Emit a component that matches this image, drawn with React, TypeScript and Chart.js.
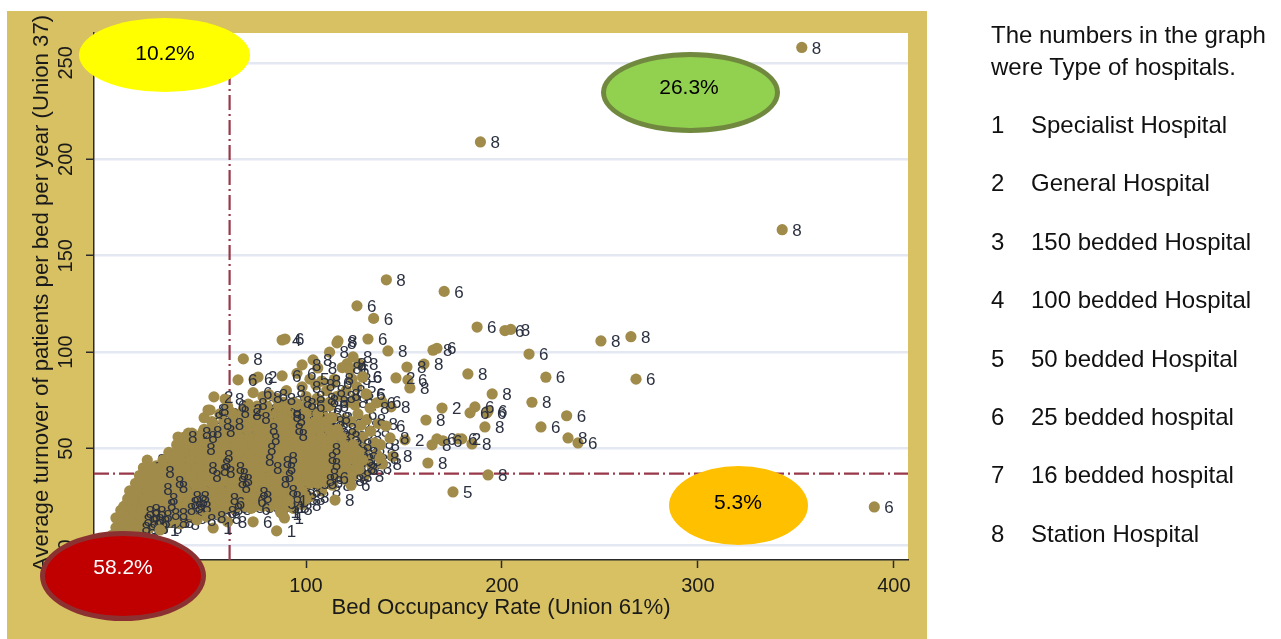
import React, { useEffect, useRef } from "react";
import { Chart, registerables } from "chart.js";

Chart.register(...registerables);

type Hospital = [number, number, number];

const xTickValues = [0, 100, 200, 300, 400];
const yTickValues = [0, 50, 100, 150, 200, 250];
const unionOccupancy = [61];
const unionTurnover = [37];
const xTitle = "Bed Occupancy Rate (Union 61%)";
const yTitle = " Average turnover of patients per bed per year (Union 37)";
const noteLines = ["The numbers in the graph", "were Type of hospitals."];
const hospitalTypes = [
  "Specialist Hospital",
  "General Hospital",
  "150 bedded Hospital",
  "100 bedded Hospital",
  "50 bedded Hospital",
  "25 bedded hospital",
  "16 bedded hospital",
  "Station Hospital",
];

// Deepest layer of the dense mass: labels end up hidden under later markers.
const massBack: Hospital[] = [
  [1,5,8],[3,9,8],[3,14,8],[5,6,8],[5,11,8],[5.5,18,8],[7,8,8],[8,15,8],[8.5,21,8],[9,11,8],[10,5,8],[11,18,8],[11.5,25,8],
  [12,9,8],[13,14,8],[14,22,8],[14.5,30,8],[15,6,8],[16,11,8],[16.5,18,8],[17,27,8],[18,33,8],[18.5,39,8],[19,14,8],[20,9,8],
  [20.5,23,8],[21,30,8],[22,36,8],[23,18,8],[23.5,41,8],[24,12,8],[25,26,8],[25.5,33,8],[26,39,8],[27,9,8],[27.5,20,8],[28,15,8],
  [29,31,8],[29.5,38,8],[30,25,8],[30.5,42,8],[31,12,8],[32,19,8],[33,35,8],[33.5,46,8],[34,52,8],[34,40,8],[34.5,15,8],[35,23,8],
  [36,11,8],[36.5,32,8],[37,18,8],[37.5,43,8],[38,38,8],[39,26,8],[39.5,14,8],[40,21,8],[41,35,8],[41.5,45,8],[42,29,8],[42.5,17,8],
  [43,40,8],[44,24,8],[44.5,49,8],[45,19,8],[45.5,33,8],[46,55,8],[46,24,6],[46.5,31,8],[47,38,8],[47.5,44,8],[48,50,8],[48.5,17,8],
  [49,27,8],[49.5,35,8],[50,56,8],[50.5,42,8],[51,20,8],[51.5,30,8],[52,47,8],[53,36,8],[53.5,53,8],[54,24,8],[54.5,59,8],[55,41,8],
  [55.5,32,8],[56,48,8],[56.5,18,8],[57,27,8],[57.5,54,8],[58,38,8],[59,44,8],[59.5,23,8],[60,31,8],[60.5,58,8],[61,50,8],[62,37,8],
  [62.5,19,8],[63,26,8],[63.5,44,8],[64,55,8],[64.5,33,8],[65,62,8],[65.5,48,8],[66,40,8],[66.5,23,8],[67,30,8],[68,53,8],[68.5,36,8],
];

// Second layer of the mass.
const massMiddle: Hospital[] = [
  [69,58,8],[69.5,45,8],[70,26,8],[71,33,8],[71.5,63,8],[72,49,8],[72.5,21,8],[73,40,8],[73.5,55,8],[74,29,8],[74.5,68,8],[75,36,8],
  [75.5,60,8],[76,46,8],[76.5,24,8],[77,52,8],[77.5,33,8],[78,71,8],[78.5,42,8],[79,65,8],[79.5,28,8],[80,57,8],[80.5,48,8],[81,37,8],
  [81.5,20,8],[82,62,8],[82.5,53,8],[83,31,8],[83.5,70,8],[84,44,8],[84.5,24,8],[85,58,8],[85.5,39,8],[86,66,8],[86.5,49,8],[87,30,8],
  [88,55,8],[88.5,74,8],[89,43,8],[89.5,36,8],[90,62,8],[90.5,24,8],[91,50,8],[91.5,69,8],[92,31,8],[92.5,44,8],[93,57,8],[93.5,19,8],
  [94,38,8],[94.5,65,8],[95,26,8],[96,50,8],[96.5,34,8],[97,60,8],[97.5,42,8],[98,21,8],[98.5,68,8],[99,54,8],[99.5,30,8],[100.5,46,8],
  [101,37,8],[101.5,62,8],[102,25,8],[102.5,56,8],[103,70,8],[103.5,41,8],[104,32,8],[104.5,50,8],[105.5,65,8],[106,46,8],[106.5,38,8],
  [107.5,58,8],[108,28,8],[108.5,68,8],[109,52,8],[109.5,43,8],[110,35,8],[111,62,8],[111.5,48,8],[112.5,55,8],[113,40,8],[113.5,31,8],
  [114,66,8],[115,50,8],[116,44,8],[116.5,60,8],[117,37,8],[118,53,8],[119,47,8],[119.5,65,8],[120,41,8],[121,56,8],[122,35,8],[122.5,50,8],
  [123,64,8],[124,45,8],[124.5,58,8],[125.5,40,8],[126,52,8],[128,62,8],[128.5,42,8],[129,56,8],[130,36,8],[130.5,50,8],[132,44,8],[133,59,8],
  [134,40,8],[135,53,8],[136,47,8],[137,63,8],[138,52,8],[139,42,8],
];

const massFillRows: [number, number[]][] = [
  [12, [6,10,14,18,22,26,30,33]],
  [16, [6,9,13,17,21,25,29,33,37,41,47,52]],
  [20, [7,10,14,18,22,26,30,34,38,43,48,53,57,61,65,69,74,78,82,87,92]],
  [24, [9,13,17,21,28,32,36,41,45,50,55,59,63,68,72,77,81,86,90,96,100]],
  [28, [10,14,19,23,27,31,35,39,44,48,53,57,62,66,71,75,80,84,89,93,98]],
  [32, [13,17,21,25,29,34,38,43,47,52,56,61,65,70,74,79,84,88,93,97,102,106]],
  [36, [15,19,23,28,32,37,41,45,50,54,59,64,68,73,77,82,86,91,96,100,105,110,114,119,124]],
  [40, [17,22,26,30,35,39,44,49,53,57,62,66,71,76,81,85,90,94,99,103,108,112,117,121,126]],
  [44, [19,27,32,36,41,46,50,55,60,64,69,73,78,83,87,92,96,101,106,110,115,120,125,129]],
  [48, [30,34,38,43,47,52,57,61,66,71,75,80,84,89,94,98,103,107,112,117,122,127]],
  [52, [36,41,45,50,55,59,64,68,73,78,82,87,91,96,101,105,110,114,119,124]],
  [56, [38,43,48,53,57,62,66,71,76,80,85,89,94,99,103,108,113,118]],
  [60, [48,52,57,61,65,70,75,79,84,88,93,98,103,107,112,116]],
  [64, [52,58,63,68,72,77,81,86,91,96,100,105,110]],
  [68, [56,63,72,76,80,85,90,95,100,106]],
  [72, [75,80,86,90,96,102,109]],
];
const massFillType = 8;

// Top layer of the mass: the labels here are the black knots.
const massFront: Hospital[] = [
  [11,9,8],[12,13,8],[13,17,8],[14,8,8],[15,12,8],[16,15,8],[17,10,8],[18,13,8],[19,17,8],[20,9,8],[21,12,8],[22,15,8],[16,18,8],
  [34,19,8],[36,22,8],[37,25,8],[38,20,8],[39,18,8],[40,23,8],[41,25,8],[42,20,8],[30,16,8],[26,16,8],[24,21,8],[22,29,8],[23,38,8],
  [25,24,8],[28,33,8],[52,42,8],[53,46,8],[51,39,8],[54,38,8],[60,33,8],[61,37,8],[62,30,8],[63,34,8],[59,40,8],[57,14,8],[58,19,8],
  [56,24,8],[55,17,8],[59,22,6],[60,12,8],[70,23,6],[72,19,6],[71,27,8],[73,25,8],[85,22,6],[87,17,1],[88,25,8],[86,28,8],[89,14,1],
  [90,20,1],[89,60,8],[90,65,8],[88,69,8],[91,57,8],[84,36,8],[85,40,8],[83,43,8],[82,33,8],[86,45,8],[75,50,8],[77,55,8],[74,44,8],
  [76,60,8],[78,40,8],[107,37,8],[108,42,8],[106,45,8],[105,34,8],[109,33,6],[108,50,8],[120,34,8],[123,31,6],[112,35,6],[44,50,8],
  [30,30,8],[45,40,8],[47,36,8],[40,58,8],[48,66,8],[54,59,8],[50,70,8],
];

// Upper edge of the mass and its loose neighbours.
const upperBand: Hospital[] = [
  [34.7,56,8],[41.8,58,8],[47.4,58.6,8],[52.5,63,8],[53,76.8,2],[58.7,75.7,8],[51,70,8],[58.5,63,8],[61.5,69,8],[67.5,68,8],[70.5,73,8],
  [65.3,85.6,6],[75.5,87.1,2],[73.5,86,6],[87.8,87.7,6],[73,79,6],[78,77,8],[81,78,8],[88,67,8],[93.4,74,8],[105.6,76,8],[113,66,8],
  [125,72.6,8],[116.3,105.8,8],[112,100,8],[103.6,96,8],[98,93.4,8],[106,91.8,8],[95.4,89,6],[113.8,84,6],[98,82,8],[121.4,92.3,4],
  [121,94,8],[126,82,5],[129,87,6],[90,80,8],[85,76,8],[102,86,5],[108,85,8],[118,78,8],[112,74,8],[100,72,6],[60,72,6],[68,70,2],
  [72,66,8],[45,56,8],[95.5,73,8],[100,77,8],[105,83,8],[107,75,8],[110.5,80,8],[112,72,8],[114.5,86,8],[115.5,77,8],[118.5,92,8],
  [120.5,80,8],[121.5,74,8],[123.5,86,8],[127,94,8],[125,76,8],[131,78,5],[126.5,68,6],[131,65,8],[122.4,90.8,6],[124,97.5,8],
  [87.8,106.3,4],[89.3,106.8,6],[68,96.5,8],
];

// Markers that stand clear of the mass; their labels read cleanly.
const looseLeft: Hospital[] = [
  [25.5,7.8,1],[44.4,13,8],[49.5,14.5,8],[52.6,8.8,1],[73,12,6],[85,7.3,1],[88,16,1],[91,23,1],[114.8,23.3,8],[127,39.4,8],
  [137.8,45,8],[144.4,46,8],[140.8,61.7,6],[142.9,55.5,8],[150.5,54.5,2],[136,73.7,6],[132.7,71,8],[143.4,71.6,8],[138.8,74.2,6],
  [130.6,78.3,6],[129,87.2,6],[145.9,86.6,2],[152,85.6,6],[153,81.4,8],[151.5,92.3,8],[160.2,93.8,8],[141.8,100.6,8],[164.8,101,8],
  [166.8,102,6],[131.6,106.8,6],[115.8,104.8,8],
];

const looseRight: Hospital[] = [
  [353,258,8],[189,209,8],[343,163.5,8],[141,137.5,8],[170.5,131.5,6],[126,124,6],[134.5,117.5,6],[187.3,113,6],[201.5,111.2,6],
  [204.5,111.8,8],[213.8,99,6],[222.4,87,6],[268.4,86,6],[250.5,105.8,8],[265.8,108,8],[182.6,88.7,8],[195,78.3,8],[215.3,74,8],
  [233,67,6],[219.9,61.2,6],[233.7,55.5,8],[238.8,52.9,6],[191.3,61.2,8],[169.4,71,2],[186.2,71.6,6],[183.7,68.5,6],[192.9,69.5,6],
  [192.3,68.5,6],[161.2,64.8,8],[166.8,55,6],[169.9,54,6],[164.3,51.9,8],[177.6,55,6],[184.7,52.4,8],[179.5,55,2],[162.2,42.5,8],
  [192.9,36.3,8],[175,27.5,5],[390,19.7,6],
];

const massFill: Hospital[] = massFillRows.flatMap(([y, xs]) => xs.map((x): Hospital => [x, y, massFillType]));

const layers: { points: Hospital[]; labelsUnder: boolean }[] = [
  { points: massBack, labelsUnder: true },
  { points: massMiddle, labelsUnder: true },
  { points: massFill, labelsUnder: true },
  { points: massFront, labelsUnder: false },
  { points: upperBand, labelsUnder: false },
  { points: looseLeft, labelsUnder: false },
  { points: looseRight, labelsUnder: false },
];

const PANEL = "#d7c162";
const MARKER = "#a08b4a";
const LABEL = "#2b3140";
const UNION_LINE = "#98384a";
const AXIS = "#2a2a2a";
const FONT = '"Liberation Sans", Arial, sans-serif';

function drawLabels(chart: any, ds: any) {
  const { ctx, scales } = chart;
  ctx.save();
  ctx.font = `17px ${FONT}`;
  ctx.fillStyle = LABEL;
  ctx.textBaseline = "middle";
  ctx.textAlign = "left";
  ds.data.forEach((p: any, i: number) => {
    ctx.fillText(String(ds.types[i]), scales.x.getPixelForValue(p.x) + 10, scales.y.getPixelForValue(p.y) + 1.5);
  });
  ctx.restore();
}

const labelPlugin = {
  id: "typeLabels",
  beforeDraw(chart: any) {
    const { ctx } = chart;
    ctx.save();
    ctx.fillStyle = "#ffffff";
    ctx.fillRect(0, 0, chart.width, chart.height);
    ctx.fillStyle = PANEL;
    ctx.fillRect(7, 11, 920, 628);
    const a = chart.chartArea;
    ctx.fillStyle = "#ffffff";
    ctx.fillRect(a.left, a.top, a.right - a.left, a.bottom - a.top);
    ctx.restore();
  },
  beforeDatasetDraw(chart: any, args: any) {
    const ds = chart.data.datasets[args.index];
    if (ds.types && ds.labelsUnder) drawLabels(chart, ds);
  },
  afterDatasetDraw(chart: any, args: any) {
    const ds = chart.data.datasets[args.index];
    if (ds.types && !ds.labelsUnder) drawLabels(chart, ds);
  },
};

const Bubble = ({ left, top, width, height, fill, stroke, color, text, textX, textY }: any) => (
  <>
    <div
      style={{
        position: "absolute",
        left,
        top,
        width,
        height,
        boxSizing: "border-box",
        borderRadius: "50%",
        background: fill,
        border: stroke ? `5px solid ${stroke}` : "none",
      }}
    />
    <div
      style={{
        position: "absolute",
        left: textX - 60,
        top: textY - 15,
        width: 120,
        height: 30,
        fontFamily: FONT,
        fontSize: 21,
        lineHeight: "30px",
        textAlign: "center",
        color,
      }}
    >
      {text}
    </div>
  </>
);

export default function App() {
  const ref = useRef<HTMLCanvasElement>(null);
  useEffect(() => {
    const xMin = -8.2, xMax = 407.2, yMin = -7.8, yMax = 265.5;
    const datasets: any[] = layers.map((layer, i) => ({
      type: "scatter",
      order: 10 - i,
      data: layer.points.map((h) => ({ x: h[0], y: h[1] })),
      types: layer.points.map((h) => h[2]),
      labelsUnder: layer.labelsUnder,
      backgroundColor: MARKER,
      borderColor: MARKER,
      borderWidth: 0,
      pointRadius: 5.6,
      pointHoverRadius: 5.6,
    }));
    const unionLine = (data: any[]) => ({
      type: "scatter",
      order: 20,
      showLine: true,
      data,
      borderColor: UNION_LINE,
      borderWidth: 2.2,
      borderDash: [15, 4, 2, 4],
      pointRadius: 0,
    });
    datasets.push(unionLine([{ x: unionOccupancy[0], y: yMin }, { x: unionOccupancy[0], y: yMax }]));
    datasets.push(unionLine([{ x: xMin, y: unionTurnover[0] }, { x: xMax, y: unionTurnover[0] }]));

    const chart = new Chart(ref.current as HTMLCanvasElement, {
      type: "scatter",
      data: { datasets },
      plugins: [labelPlugin],
      options: {
        animation: false,
        responsive: false,
        layout: { padding: { left: 0, top: 33, right: 1281 - 908, bottom: 0 } },
        plugins: { legend: { display: false }, tooltip: { enabled: false } },
        scales: {
          x: {
            type: "linear",
            min: xMin,
            max: xMax,
            afterBuildTicks: (s: any) => { s.ticks = xTickValues.map((value) => ({ value })); },
            afterFit: (s: any) => { s.height = 79; },
            grid: { color: "transparent", tickColor: AXIS, tickWidth: 1.5, tickLength: 8 },
            border: { color: AXIS, width: 1.5 },
            ticks: {
              autoSkip: false,
              maxRotation: 0,
              padding: 6,
              color: "#1a1a1a",
              font: { family: FONT, size: 20 },
              callback: (v: any) => String(v),
            },
            title: {
              display: true,
              text: xTitle,
              color: "#1a1a1a",
              font: { family: FONT, size: 22.2 },
              padding: { top: 0, bottom: 18 },
            },
          },
          y: {
            type: "linear",
            min: yMin,
            max: yMax,
            afterBuildTicks: (s: any) => { s.ticks = yTickValues.map((value) => ({ value })); },
            afterFit: (s: any) => { s.width = 94; },
            grid: { color: "#e4e8f3", lineWidth: 2.5, tickColor: AXIS, tickWidth: 1.5, tickLength: 8 },
            border: { color: AXIS, width: 1.5 },
            ticks: {
              autoSkip: false,
              minRotation: 90,
              maxRotation: 90,
              crossAlign: "center",
              padding: 3,
              color: "#1a1a1a",
              font: { family: FONT, size: 20 },
              callback: (v: any) => String(v),
            },
            title: {
              display: true,
              text: yTitle,
              color: "#1a1a1a",
              font: { family: FONT, size: 22.2 },
              padding: { top: 28.5, bottom: 0 },
            },
          },
        },
      },
    } as any);
    return () => chart.destroy();
  }, []);

  const rowTops = [125, 183, 242, 300, 359, 417, 475, 534];
  const rowStyle = { position: "absolute", fontFamily: FONT, fontSize: 24, lineHeight: "30px", whiteSpace: "nowrap", color: "#111" } as any;
  return (
    <div style={{ position: "fixed", left: 0, top: 0, width: 1281, height: 639, overflow: "hidden", background: "#fff" }}>
      <canvas ref={ref} width={1281} height={639} style={{ position: "absolute", left: 0, top: 0, width: 1281, height: 639 }} />
      <Bubble left={79} top={18} width={171} height={74} fill="#ffff00" color="#000" text="10.2%" textX={165} textY={53} />
      <Bubble left={601} top={52} width={179} height={81} fill="#92d050" stroke="#71893f" color="#000" text="26.3%" textX={689} textY={87} />
      <Bubble left={669} top={466} width={139} height={79} fill="#ffc000" color="#000" text="5.3%" textX={738} textY={502} />
      <Bubble left={40} top={531} width={166} height={90} fill="#c00000" stroke="#8c3131" color="#fff" text="58.2%" textX={123} textY={567} />
      {noteLines.map((t, i) => (
        <div key={t} style={{ ...rowStyle, left: 991, top: 20 + i * 32 }}>{t}</div>
      ))}
      {hospitalTypes.map((t, i) => (
        <React.Fragment key={t}>
          <div style={{ ...rowStyle, left: 991, top: rowTops[i] - 15 }}>{i + 1}</div>
          <div style={{ ...rowStyle, left: 1031, top: rowTops[i] - 15 }}>{t}</div>
        </React.Fragment>
      ))}
    </div>
  );
}
